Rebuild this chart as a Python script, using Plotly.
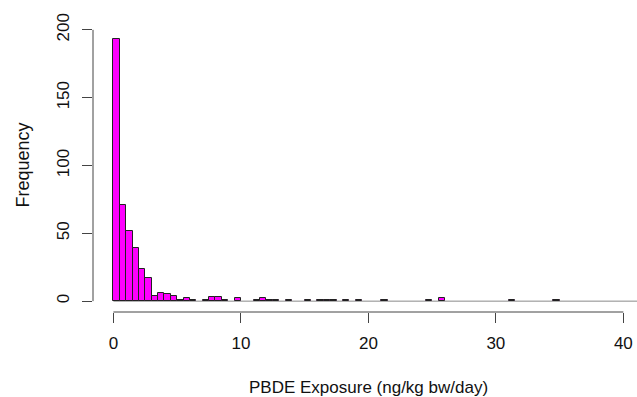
import plotly.graph_objects as go

# Histogram data (bin width 0.5)
bin_width = 0.5
bin_starts = [i * 0.5 for i in range(70)]  # 0 .. 34.5
counts = [193, 71, 52, 39, 24, 17, 4, 6, 5, 4,
          1, 2, 1, 0, 1, 3, 3, 1, 0, 2,
          0, 0, 1, 2, 1, 1, 0, 1, 0, 0,
          1, 0, 1, 1, 1, 0, 1, 0, 1, 0,
          0, 0, 1, 0, 0, 0, 0, 0, 0, 1,
          0, 2, 0, 0, 0, 0, 0, 0, 0, 0,
          0, 0, 1, 0, 0, 0, 0, 0, 0, 1]
x_ticks = [0, 10, 20, 30, 40]
y_ticks = [0, 50, 100, 150, 200]
x_title = "PBDE Exposure (ng/kg bw/day)"
y_title = "Frequency"

centers = [s + bin_width / 2 for s in bin_starts]
nz_x = [c for c, n in zip(centers, counts) if n > 0]
nz_y = [n for n in counts if n > 0]

FONT = "Liberation Sans, Arial, Helvetica, sans-serif"
AX = "#444444"

fig = go.Figure()
fig.add_trace(go.Bar(
    x=nz_x, y=nz_y, width=bin_width,
    marker=dict(color="#FF00FF", line=dict(color="#222222", width=1)),
    showlegend=False, hoverinfo="skip",
))

# baseline of the histogram (zero-height bins)
fig.add_shape(type="line", xref="x", yref="y", x0=0, x1=45, y0=0, y1=0,
              line=dict(color="#8a8a8a", width=1), layer="below")
# R-style axis lines spanning only the tick range
fig.add_shape(type="line", xref="x", yref="paper", x0=x_ticks[0], x1=x_ticks[-1],
              y0=0, y1=0, line=dict(color=AX, width=1))
fig.add_shape(type="line", xref="paper", yref="y", x0=0, x1=0,
              y0=y_ticks[0], y1=y_ticks[-1], line=dict(color=AX, width=1))

fig.add_annotation(text=x_title, xref="x", yref="paper", x=20, y=0,
                   yanchor="middle", yshift=-75, showarrow=False,
                   font=dict(family=FONT, size=17, color="#111111"))
fig.add_annotation(text=y_title, xref="paper", yref="y", x=0, y=100,
                   xanchor="center", xshift=-71, textangle=-90, showarrow=False,
                   font=dict(family=FONT, size=18, color="#111111"))

fig.update_layout(
    width=637, height=397,
    margin=dict(l=93, r=0, t=19, b=85, pad=0),
    plot_bgcolor="white", paper_bgcolor="white",
    bargap=0,
    font=dict(family=FONT, size=17, color="#111111"),
    xaxis=dict(range=[-1.6, 41.07], tickvals=x_ticks, ticks="outside", ticklen=10,
               tickcolor=AX, tickwidth=1, showline=False, showgrid=False,
               zeroline=False, ticklabelstandoff=6, fixedrange=True),
    yaxis=dict(range=[-8, 208], tickvals=y_ticks, ticks="outside", ticklen=10,
               tickcolor=AX, tickwidth=1, showline=False, showgrid=False,
               zeroline=False, tickangle=-90, ticklabelstandoff=6, fixedrange=True),
)

fig.write_html("out.html", config={"displayModeBar": False},
               post_script="document.body.style.margin='0px';document.body.style.padding='0px';")
